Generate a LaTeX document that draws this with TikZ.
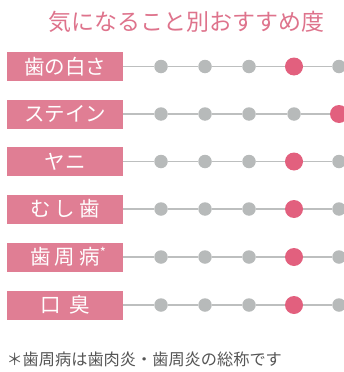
\documentclass[tikz,border=0pt]{standalone}
\usepackage{fontspec}
\setmainfont{Noto Sans CJK JP}
\newfontfamily\jpfont{Noto Sans CJK JP}
\definecolor{boxpink}{HTML}{E07E94}
\definecolor{titlepink}{HTML}{DE738C}
\definecolor{dotred}{HTML}{E2607E}
\definecolor{dotgray}{HTML}{B7BABA}
\definecolor{linegray}{HTML}{BDBFBF}
\definecolor{notegray}{HTML}{555555}
\newcommand{\gp}{\hspace{0.2em}}
\begin{document}
\begin{tikzpicture}[x=1pt,y=-1pt,
  labelbox/.style={fill=boxpink,text=white,minimum width=116pt,minimum height=29pt,inner sep=0pt,font=\jpfont\fontsize{20.5}{20.5}\selectfont},
  gdot/.style={circle,fill=dotgray,minimum size=13.5pt,inner sep=0pt},
  rdot/.style={circle,fill=dotred,minimum size=18pt,inner sep=0pt},
  conn/.style={draw=linegray,line width=1.8pt}]
\useasboundingbox (0,0) rectangle (343,372);
\node[text=titlepink,font=\jpfont\fontsize{23}{23}\selectfont] (title) at (186,22) {気になること別おすすめ度};
\foreach \i/\y/\lab/\r in {1/66.5/歯の白さ/4,2/114/ステイン/5,3/161.5/ヤニ/4,4/209/む\gp し\gp 歯/4,5/257/\hspace{0.3em}歯\gp 周\gp 病\raisebox{0.35em}{\fontsize{13}{13}\selectfont *}/4,6/305/口\hspace{0.4em}臭/4}{
  \node[labelbox] (b\i) at (65,\y) {\lab};
  \coordinate (e\i) at (350,\y);
  \foreach \k/\x in {1/161,2/205,3/249,4/294,5/339}{
    \ifnum\k=\r
      \node[rdot] (d\i\k) at (\x,\y) {};
    \else
      \node[gdot] (d\i\k) at (\x,\y) {};
    \fi
  }
}
\foreach \i in {1,...,6}{
  \draw[conn] (b\i.east) -- (d\i1) -- (d\i2) -- (d\i3) -- (d\i4) -- (d\i5) -- (e\i);
}
\node[text=notegray,anchor=west,font=\jpfont\fontsize{16.2}{16.2}\selectfont] (note) at (3,359) {＊歯周病は歯肉炎・歯周炎の総称です};
\end{tikzpicture}
\end{document}
